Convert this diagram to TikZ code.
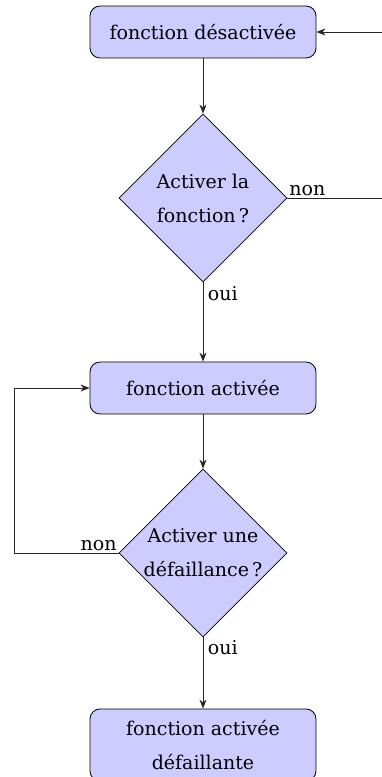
\documentclass[tikz,border=0pt]{standalone}
\usepackage{fontspec}
\setmainfont{DejaVu Serif}
\usetikzlibrary{shapes.geometric,arrows.meta}
\begin{document}
\begin{tikzpicture}[x=1pt,y=1pt,
  every node/.style={font=\fontsize{19}{34}\selectfont},
  etat/.style={draw=black,fill=blue!20,rounded corners=10pt,minimum width=226pt,minimum height=52pt,align=center,inner sep=0pt,line width=0.8pt},
  question/.style={draw=black,fill=blue!20,diamond,minimum width=168pt,minimum height=168pt,inner sep=0pt,align=center,line width=0.8pt},
  lien/.style={draw=black!85,line width=0.9pt},
  fleche/.style={lien,-{Stealth[length=9pt,width=7pt]}},
  lbl/.style={inner sep=1.5pt}]
\useasboundingbox (0,0) rectangle (382,777);
\node[etat] (b1) at (203,745) {fonction désactivée};
\node[question] (d1) at (203,579) {Activer la\\fonction\,?};
\node[etat] (b2) at (203,389) {fonction activée};
\node[question] (d2) at (203,224) {Activer une\\défaillance\,?};
\node[etat,minimum height=72pt] (b3) at (203,32) {fonction activée\\défaillante};
\coordinate (r1) at (386,579);
\coordinate (r2) at (386,745);
\coordinate (l1) at (14,224);
\coordinate (l2) at (14,389);
\draw[fleche] (b1) -- (d1);
\draw[fleche] (d1) -- node[lbl,anchor=west,pos=0.14,xshift=3pt]{oui} (b2);
\draw[fleche] (b2) -- (d2);
\draw[fleche] (d2) -- node[lbl,anchor=west,pos=0.14,xshift=3pt]{oui} (b3);
\draw[fleche] (d1.east) -- node[lbl,anchor=south west,pos=0]{non} (r1) -- (r2) -- (b1.east);
\draw[fleche] (d2.west) -- node[lbl,anchor=south east,pos=0]{non} (l1) -- (l2) -- (b2.west);
\end{tikzpicture}
\end{document}
